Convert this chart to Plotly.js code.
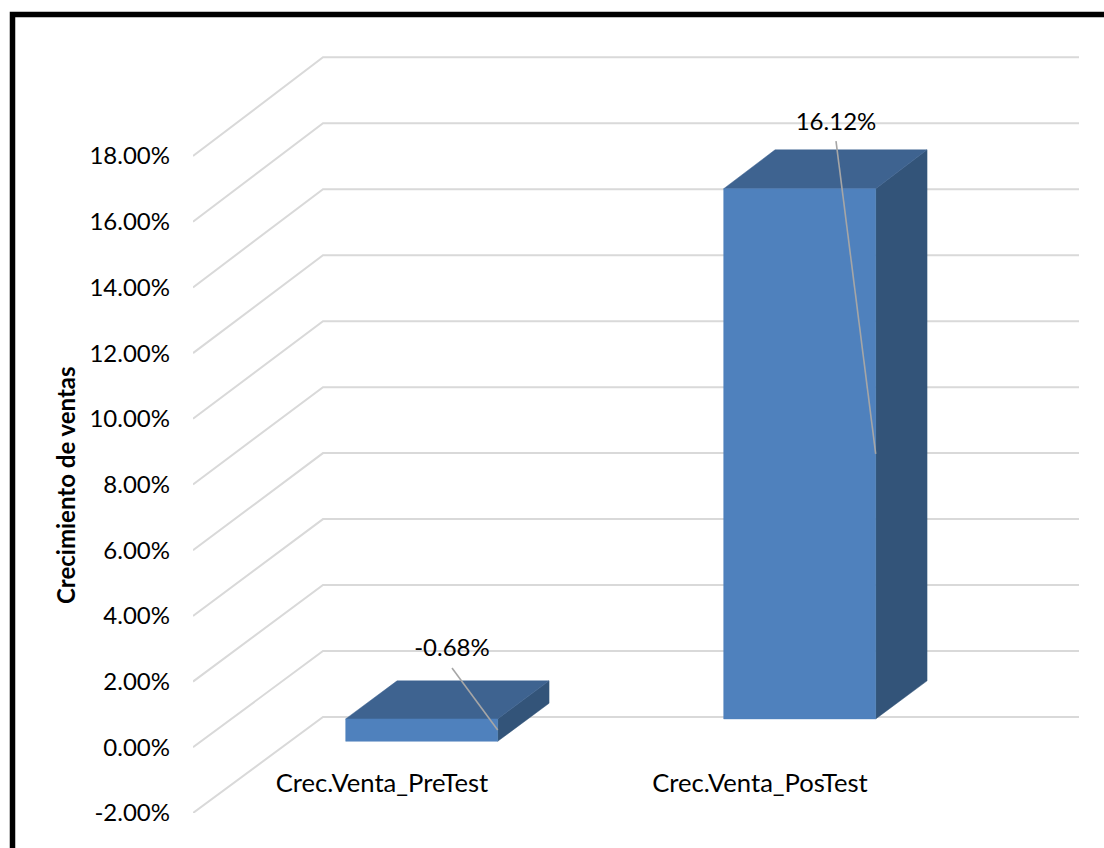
<!DOCTYPE html>
<html><head><meta charset="utf-8">
<script src="https://cdn.plot.ly/plotly-3.0.1.min.js"></script>
<style>html,body{margin:0;padding:0;background:#fff;overflow:hidden}</style>
</head><body><div id="chart" style="width:1104px;height:848px"></div>
<script>
const categories = ['Crec.Venta_PreTest', 'Crec.Venta_PosTest'];
const values = [-0.0068, 0.1612];
const axisTicks = [-0.02, 0, 0.02, 0.04, 0.06, 0.08, 0.10, 0.12, 0.14, 0.16, 0.18];
const axisTitle = 'Crecimiento de ventas';

// Oblique projection of the Excel 3-D column chart
const W = 1104, H = 848, L = 193, R = 1085, T = 50, B = 813;
const pxPerCat = 378, pxPerUnit = 3285;           // axis scales
const depthX = 130 / pxPerCat, depthY = 96 / pxPerUnit, depthGrow = 13.5 / pxPerUnit; // floor depth offset
const barHalf = 76 / pxPerCat, barShift = 0.7 / pxPerCat, depthFront = 0.295, depthBack = 0.69;
const xMin = -0.5, xMax = xMin + (R - L) / pxPerCat;
const yMin = -0.02, yMax = yMin + (B - T) / pxPerUnit;
const px = (c, v, d) => [c + d * depthX, v + d * (depthY + (v - yMin) * depthGrow)];

// walls: one polyline per tick, front edge -> back corner -> back right
const gx = [], gy = [];
axisTicks.forEach(v => {
  [px(xMin, v, 0), px(xMin, v, 1), px(xMin + categories.length, v, 1)].forEach(p => { gx.push(p[0]); gy.push(p[1]); });
  gx.push(null); gy.push(null);
});

const front = {x: [], y: []}, top_ = {x: [], y: []}, side = {x: [], y: []}, leader = {x: [], y: []};
function poly(t, pts) { pts.forEach(p => { t.x.push(p[0]); t.y.push(p[1]); }); t.x.push(null); t.y.push(null); }
const labelOffsets = [[5 / pxPerCat, 48.7 / pxPerUnit], [11 / pxPerCat, 45 / pxPerUnit]];
const labelX = [], labelY = [], labelText = [];
values.forEach((v, i) => {
  const l = i - barHalf + barShift + (0.3 - depthFront) * depthX, r = i + barHalf + barShift + (0.3 - depthFront) * depthX;
  const hi = Math.max(v, 0), lo = Math.min(v, 0);
  poly(front, [px(l, lo, depthFront), px(r, lo, depthFront), px(r, hi, depthFront), px(l, hi, depthFront), px(l, lo, depthFront)]);
  poly(top_, [px(l, hi, depthFront), px(r, hi, depthFront), px(r, hi, depthBack), px(l, hi, depthBack), px(l, hi, depthFront)]);
  poly(side, [px(r, lo, depthFront), px(r, lo, depthBack), px(r, hi, depthBack), px(r, hi, depthFront), px(r, lo, depthFront)]);
  const c = px(i, hi, 0.5);
  const lx = c[0] + labelOffsets[i][0], ly = c[1] + labelOffsets[i][1];
  labelX.push(lx); labelY.push(ly); labelText.push((v * 100).toFixed(2) + '%');
  poly(leader, [[lx, ly - 17.5 / pxPerUnit], px(r, (hi + lo) / 2, depthFront)]);
});

const face = (t, color) => ({x: t.x, y: t.y, mode: 'lines', fill: 'toself', fillcolor: color,
  line: {color: color, width: 0.5}, hoverinfo: 'skip', cliponaxis: false});
const FONT = 'Lato, Carlito, Calibri, sans-serif';
const traces = [
  {x: gx, y: gy, mode: 'lines', line: {color: '#D9D9D9', width: 2}, hoverinfo: 'skip', cliponaxis: false},
  face(side, '#335479'), face(top_, '#3E6390'), face(front, '#4F81BD'),
  {x: leader.x, y: leader.y, mode: 'lines', line: {color: '#A6A6A6', width: 1.6}, hoverinfo: 'skip', cliponaxis: false},
  {x: labelX, y: labelY, text: labelText, mode: 'text', textposition: 'middle center',
   textfont: {family: FONT, size: 24, color: '#000'}, hoverinfo: 'skip', cliponaxis: false}
];
const layout = {
  width: W, height: H, showlegend: false, hovermode: false,
  paper_bgcolor: '#fff', plot_bgcolor: 'rgba(0,0,0,0)',
  margin: {l: L, r: W - R, t: T, b: H - B, pad: 0},
  font: {family: FONT, size: 24, color: '#000'},
  xaxis: {range: [xMin, xMax], tickmode: 'array', tickvals: categories.map((_, i) => i), ticktext: categories,
    showgrid: false, zeroline: false, showline: false, ticks: '', anchor: 'free', position: 48 / (B - T),
    tickfont: {family: FONT, size: 25.6, color: '#000'}},
  yaxis: {range: [yMin, yMax], tickmode: 'array', tickvals: axisTicks,
    ticktext: axisTicks.map(v => (v * 100).toFixed(2) + '%'),
    showgrid: false, zeroline: false, showline: false, ticks: '', ticklabelstandoff: 22,
    tickfont: {family: FONT, size: 24, color: '#000'}},
  annotations: [{text: axisTitle, textangle: -90, showarrow: false, xref: 'paper', yref: 'paper',
    x: (66 - L) / (R - L), y: (B - 485) / (B - T), xanchor: 'center', yanchor: 'middle',
    font: {family: FONT, size: 24, weight: 700, color: '#000'}}],
  shapes: [{type: 'path', xref: 'paper', yref: 'paper',
    path: `M ${(12.5 - L) / (R - L)} ${(B - H - 5) / (B - T)} L ${(12.5 - L) / (R - L)} ${(B - 14.5) / (B - T)} L ${(W + 5 - L) / (R - L)} ${(B - 14.5) / (B - T)}`,
    line: {color: '#000', width: 5.5}, layer: 'above'}]
};
Plotly.newPlot('chart', traces, layout, {displayModeBar: false, staticPlot: true});
</script></body></html>
